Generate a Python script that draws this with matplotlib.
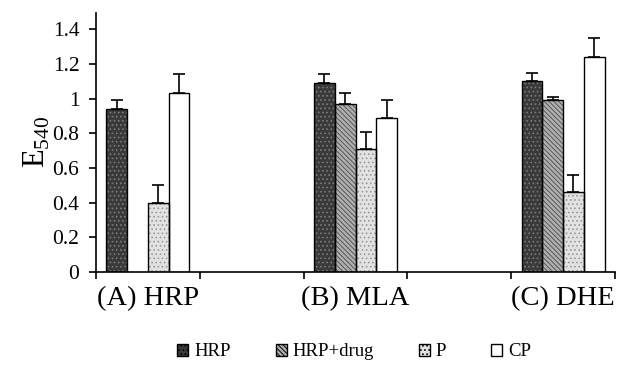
import numpy as np
import matplotlib.pyplot as plt
from matplotlib.patches import Patch

plt.rcParams['font.family'] = ['Liberation Serif', 'DejaVu Serif']
plt.rcParams['mathtext.fontset'] = 'custom'
plt.rcParams['mathtext.rm'] = 'Liberation Serif'
plt.rcParams['hatch.linewidth'] = 0.7

# category slots (empty slots between the groups, as in the original sheet)
slot_labels = ['(A) HRP', '', '(B) MLA', '', '(C) DHE']
group_slots = [0, 2, 4]

series = ['HRP', 'HRP+drug', 'P', 'CP']
hrp = [0.94, 1.09, 1.10]
hrp_drug = [np.nan, 0.97, 0.99]
p = [0.40, 0.71, 0.46]
cp = [1.03, 0.89, 1.24]

hrp_err = [0.05, 0.05, 0.05]
hrp_drug_err = [0.0, 0.065, 0.02]
p_err = [0.10, 0.10, 0.10]
cp_err = [0.11, 0.10, 0.11]

values = [hrp, hrp_drug, p, cp]
errors = [hrp_err, hrp_drug_err, p_err, cp_err]
# face colour, hatch, hatch colour
styles = [('#3a3a3a', '....', '#7a7a7a'),
          ('#b0b0b0', '\\\\\\\\\\\\\\', '#555555'),
          ('#e2e2e2', '....', '#9a9a9a'),
          ('white', None, 'white')]

fig = plt.figure(figsize=(6.17, 3.65), dpi=100)
ax = fig.add_axes([96 / 617, 1 - 272 / 365, 519 / 617, (272 - 12.7) / 365])

width = 0.2
offsets = [-0.3, -0.1, 0.1, 0.3]
x = np.array(group_slots, dtype=float)
for vals, errs, (fc, hatch, hc), off in zip(values, errors, styles, offsets):
    vals = np.array(vals, dtype=float)
    errs = np.array(errs, dtype=float)
    ok = ~np.isnan(vals)
    xs = x[ok] + off
    # pattern first, then black outline on top
    ax.bar(xs, vals[ok], width, facecolor=fc, hatch=hatch, edgecolor=hc,
           linewidth=0, zorder=2)
    ax.bar(xs, vals[ok], width, fill=False, edgecolor='black',
           linewidth=1.0, zorder=3)
    ax.errorbar(xs, vals[ok], yerr=[np.zeros(ok.sum()), errs[ok]], fmt='none',
                ecolor='black', elinewidth=1.2, capsize=4.5, capthick=1.2,
                zorder=4)

ax.set_xlim(-0.5, 4.5)
ax.set_ylim(0, 1.496)
ax.set_yticks(np.arange(0, 1.41, 0.2))
ax.set_yticklabels(['0', '0.2', '0.4', '0.6', '0.8', '1', '1.2', '1.4'],
                   fontsize=15.5)
ax.set_xticks(np.arange(-0.5, 4.6, 1))
ax.set_xticklabels([])
ax.set_xticks(range(len(slot_labels)), minor=True)
ax.set_xticklabels(slot_labels, minor=True, fontsize=20.5)
ax.tick_params(axis='x', which='minor', length=0, pad=10)
ax.tick_params(axis='x', which='major', length=5, width=1.2, direction='out')
ax.tick_params(axis='y', length=5, width=1.2, direction='out', pad=7)

for s in ['top', 'right']:
    ax.spines[s].set_visible(False)
for s in ['left', 'bottom']:
    ax.spines[s].set_linewidth(1.2)

ax.set_ylabel(r'E$_{540}$', fontsize=22)
ax.yaxis.set_label_coords(-0.085, 0.5)

handles = []
for name, (fc, hatch, hc) in zip(series, styles):
    handles.append(Patch(facecolor=fc, hatch=hatch, edgecolor='black',
                         linewidth=1.0, label=name))
fig.legend(handles=handles, loc='center', bbox_to_anchor=(0.574, 0.036),
           ncol=4, frameon=False, fontsize=13.5, handlelength=0.6,
           handleheight=0.6, handletextpad=0.3, columnspacing=2.4)

fig.savefig('out.png', dpi=100)
